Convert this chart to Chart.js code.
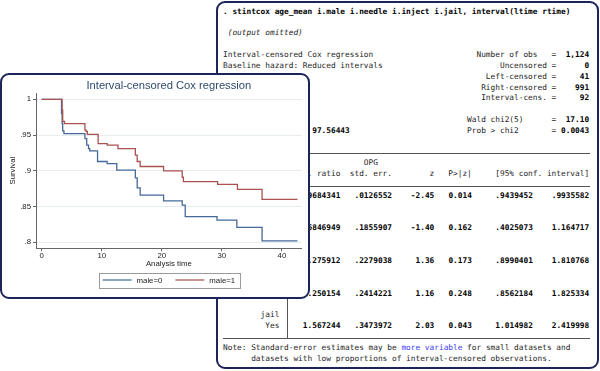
<!DOCTYPE html>
<html>
<head>
<meta charset="utf-8">
<script src="https://cdn.jsdelivr.net/npm/chart.js@4.4.1/dist/chart.umd.min.js"></script>
<style>
  html, body { margin: 0; padding: 0; background: #fff; }
  body { width: 600px; height: 371px; position: relative; overflow: hidden; }
  .panel { position: absolute; box-sizing: border-box; background: #fff; border: 2px solid #1d2459; border-radius: 9px; }
  #stata { left: 215.5px; top: 1px; width: 383px; height: 368px; z-index: 1; }
  #stata pre { position: absolute; left: 5.5px; top: 3.6px; margin: 0; font: 7.8px/10.85px "DejaVu Sans Mono", monospace; color: #1e1e1e; }
  #stata .res, #stata .cmd { font-weight: bold; color: #000; }
  #stata .it { font-style: italic; }
  #stata .link { color: #3a3af0; }
  .rule { position: absolute; background: #555; }
  #graph { left: 0; top: 73px; width: 310px; height: 226px; z-index: 2; }
  #graph .box { position: absolute; left: 0; top: 0; width: 306px; height: 222px; }
</style>
</head>
<body>
<div id="stata" class="panel">
  <pre id="out"></pre>
  <div class="rule" style="left:5.5px; top:150px; width:366.6px; height:1px"></div>
  <div class="rule" style="left:5.5px; top:182.6px; width:366.6px; height:1px"></div>
  <div class="rule" style="left:5.5px; top:334.5px; width:366.6px; height:1px"></div>
  <div class="rule" style="left:69px; top:150px; width:1px; height:185px"></div>
</div>
<div id="graph" class="panel">
  <div class="box"><canvas id="km"></canvas></div>
</div>
<script>
// survival curves (step function, value holds from each time on)
const groups = ["male=0", "male=1"];
const male0Time = [0, 3.3, 3.4, 3.5, 3.7, 7.2, 7.5, 7.8, 8.0, 9.3, 10.9, 12.5, 15.6, 15.9, 16.4, 20.3, 23.4, 23.9, 29.2, 32.5, 36.7, 42.6];
const male0Surv = [1, 0.980, 0.966, 0.956, 0.952, 0.945, 0.936, 0.931, 0.928, 0.913, 0.910, 0.901, 0.890, 0.876, 0.866, 0.858, 0.852, 0.836, 0.831, 0.821, 0.802, 0.802];
const male1Time = [0, 3.4, 3.5, 3.8, 7.2, 7.4, 7.6, 9.4, 10.9, 12.7, 15.6, 15.9, 16.4, 20.3, 23.4, 23.6, 29.3, 32.6, 36.7, 42.6];
const male1Surv = [1, 0.985, 0.969, 0.966, 0.957, 0.955, 0.951, 0.938, 0.936, 0.931, 0.922, 0.913, 0.906, 0.900, 0.891, 0.885, 0.881, 0.874, 0.860, 0.860];

const xTicks = [0, 10, 20, 30, 40];
const yTicks = [0.8, 0.85, 0.9, 0.95, 1];
const yTickLabels = [".8", ".85", ".9", ".95", "1"];

// stintcox table
const coefRows = [
  ["age_mean", null, [".9684341", ".0126552", "-2.45", "0.014", ".9439452", ".9935582"]],
  ["male", "Yes", [".6846949", ".1855907", "-1.40", "0.162", ".4025073", "1.164717"]],
  ["needle", "Yes", ["1.275912", ".2279038", "1.36", "0.173", ".8990401", "1.810768"]],
  ["inject", "Yes", ["1.250154", ".2414221", "1.16", "0.248", ".8562184", "1.825334"]],
  ["jail", "Yes", ["1.567244", ".3473972", "2.03", "0.043", "1.014982", "2.419998"]],
];

function stataLine(pieces) {
  let html = "", col = 0;
  for (const [c, text, style, right] of pieces) {
    const start = right ? c - text.length : c;
    html += " ".repeat(Math.max(0, start - col));
    const safe = text.replace(/&/g, "&amp;").replace(/</g, "&lt;").replace(/>/g, "&gt;");
    html += style ? `<span class="${style}">${safe}</span>` : safe;
    col = start + text.length;
  }
  return html;
}

const valueCols = [25, 36, 45, 53, 66, 78];
const rowLine = (label, vals) =>
  [[12, label, null, 1], ...vals.map((v, i) => [valueCols[i], v, "res", 1])];

const lines = [
  [[0, ". stintcox age_mean i.male i.needle i.inject i.jail, interval(ltime rtime)", "cmd"]],
  [],
  [[1, "(output omitted)", "it"]],
  [],
  [[0, "Interval-censored Cox regression"], [54, "Number of obs"], [70, "="], [78, "1,124", "res", 1]],
  [[0, "Baseline hazard: Reduced intervals"], [69, "Uncensored", null, 1], [70, "="], [78, "0", "res", 1]],
  [[69, "Left-censored", null, 1], [70, "="], [78, "41", "res", 1]],
  [[69, "Right-censored", null, 1], [70, "="], [78, "991", "res", 1]],
  [[69, "Interval-cens.", null, 1], [70, "="], [78, "92", "res", 1]],
  [],
  [[52, "Wald chi2(5)"], [70, "="], [78, "17.10", "res", 1]],
  [[19, "97.56443", "res"], [52, "Prob > chi2"], [70, "="], [78, "0.0043", "res", 1]],
  [],
  [],
  [[30, "OPG"]],
  [[12, "_t", null, 1], [25, "Haz. ratio", null, 1], [36, "std. err.", null, 1], [45, "z", null, 1],
   [53, "P>|z|", null, 1], [78, "[95% conf. interval]", null, 1]],
  [],
];
coefRows.forEach(([name, level, vals], i) => {
  if (level) {
    lines.push([[12, name, null, 1]]);
    lines.push(rowLine(level, vals));
  } else {
    lines.push(rowLine(name, vals));
  }
  lines.push([]);
});
lines.pop();
lines.push([]);
lines.push([[0, "Note: Standard-error estimates may be "], [38, "more variable", "link"], [51, " for small datasets and"]]);
lines.push([[6, "datasets with low proportions of interval-censored observations."]]);
document.getElementById("out").innerHTML = lines.map(stataLine).join("\n");

// graph
const blue = "#44699a";
const red = "#a9524f";
const axisColor = "#666";
const toPoints = (ts, ss) => ts.map((t, i) => ({ x: t, y: ss[i] }));

Chart.defaults.font.family = "'Liberation Sans', Arial, sans-serif";
Chart.defaults.color = "#222";

const stataLegend = {
  id: "stataLegend",
  afterDraw(chart) {
    const { ctx, chartArea } = chart;
    const sample = 29, gap = 5, between = 13, padX = 4, boxH = 14.6;
    ctx.save();
    ctx.font = "7.8px 'Liberation Sans', Arial, sans-serif";
    const items = chart.data.datasets.map((d) => ({
      text: d.label, color: d.borderColor, w: ctx.measureText(d.label).width,
    }));
    const inner = items.reduce((s, it) => s + sample + gap + it.w, 0) + between * (items.length - 1);
    const boxW = inner + padX * 2;
    const cx = (chartArea.left + chartArea.right) / 2;
    const cy = chartArea.bottom + 31.7;
    const left = cx - boxW / 2;
    ctx.fillStyle = "#fff";
    ctx.fillRect(left, cy - boxH / 2, boxW, boxH);
    ctx.strokeStyle = "#9a9a9a";
    ctx.lineWidth = 1;
    ctx.strokeRect(Math.round(left) + 0.5, Math.round(cy - boxH / 2) + 0.5, Math.round(boxW), Math.round(boxH));
    let x = left + padX;
    ctx.textBaseline = "middle";
    ctx.textAlign = "left";
    items.forEach((it) => {
      ctx.strokeStyle = it.color;
      ctx.lineWidth = 1.2;
      ctx.beginPath();
      ctx.moveTo(x, cy);
      ctx.lineTo(x + sample, cy);
      ctx.stroke();
      x += sample + gap;
      ctx.fillStyle = "#222";
      ctx.fillText(it.text, x, cy + 0.5);
      x += it.w + between;
    });
    ctx.restore();
  },
};

new Chart(document.getElementById("km").getContext("2d"), {
  type: "line",
  data: {
    datasets: [
      { label: groups[0], data: toPoints(male0Time, male0Surv), borderColor: blue, order: 1 },
      { label: groups[1], data: toPoints(male1Time, male1Surv), borderColor: red, order: 0 },
    ],
  },
  options: {
    responsive: true,
    maintainAspectRatio: false,
    animation: false,
    datasets: {
      line: { stepped: "before", borderWidth: 1.3, pointRadius: 0, fill: false },
    },
    layout: { padding: { left: 0, right: 6.3, top: 0, bottom: 28.8 } },
    plugins: {
      legend: { display: false },
      tooltip: { enabled: false },
      title: {
        display: true,
        text: "Interval-censored Cox regression",
        fullSize: false,
        color: "#2f4a6e",
        font: { size: 11.2, weight: "normal", lineHeight: 1.2 },
        padding: { top: 4.3, bottom: 0.3 },
      },
    },
    scales: {
      x: {
        type: "linear",
        min: -0.95,
        max: 43.3,
        afterBuildTicks: (s) => { s.ticks = xTicks.map((v) => ({ value: v })); },
        afterFit: (s) => { s.height = 19.9; },
        ticks: { padding: 0, maxRotation: 0, font: { size: 7.8 }, color: "#222" },
        grid: { drawOnChartArea: false, tickColor: axisColor, tickLength: 3 },
        border: { color: axisColor, width: 1 },
        title: { display: true, text: "Analysis time", font: { size: 7.8 }, padding: 0, color: "#222" },
      },
      y: {
        min: 0.7916,
        max: 1.0088,
        afterBuildTicks: (s) => { s.ticks = yTicks.map((v) => ({ value: v })); },
        afterFit: (s) => { s.width = 34; },
        ticks: {
          padding: 2,
          font: { size: 7.8 },
          color: "#222",
          callback: (v) => yTickLabels[yTicks.indexOf(v)],
        },
        grid: { color: "#e6edf0", tickColor: axisColor, tickLength: 3 },
        border: { color: axisColor, width: 1 },
        title: { display: true, text: "Survival", font: { size: 7.8 }, padding: { top: 6, bottom: 0 }, color: "#222" },
      },
    },
  },
  plugins: [stataLegend],
});
</script>
</body>
</html>
